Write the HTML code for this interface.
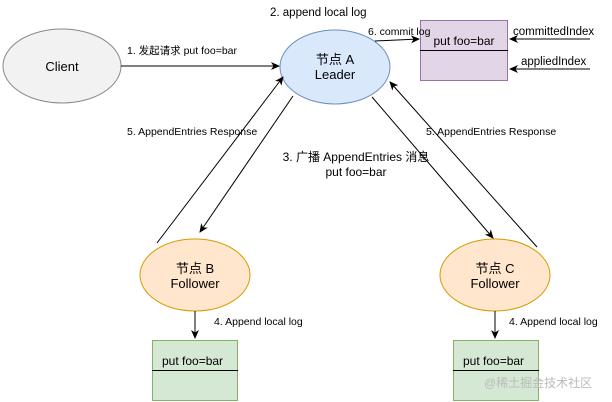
<!DOCTYPE html><html><head><meta charset="utf-8"><style>body{margin:0;background:#fff}svg{display:block}text{font-family:"Liberation Sans","Noto Sans CJK SC",sans-serif;fill:#000}</style></head><body>
<svg width="612" height="402" viewBox="0 0 612 402">
<defs><marker id="a" markerWidth="10" markerHeight="10" refX="8" refY="5" orient="auto" markerUnits="userSpaceOnUse"><path d="M0,1 L9,5 L0,9 L2.5,5 Z" fill="#000"/></marker></defs>
<ellipse cx="62" cy="66" rx="59" ry="37" fill="#f2f2f2" stroke="#888"/>
<text x="62" y="71" font-size="13" text-anchor="middle">Client</text>
<ellipse cx="335" cy="67" rx="55" ry="37" fill="#dae8fc" stroke="#6c8ebf"/>
<text x="335" y="64" font-size="13" text-anchor="middle">节点 A</text>
<text x="335" y="79" font-size="13" text-anchor="middle">Leader</text>
<rect x="420.5" y="20.5" width="87" height="60" fill="#e1d5e7" stroke="#9673a6"/>
<line x1="420" y1="50.5" x2="508" y2="50.5" stroke="#000"/>
<text x="464" y="45" font-size="12" text-anchor="middle">put foo=bar</text>
<ellipse cx="195" cy="275" rx="55" ry="36" fill="#ffe6cc" stroke="#d79b00"/>
<text x="195" y="273" font-size="13" text-anchor="middle">节点 B</text>
<text x="195" y="288" font-size="13" text-anchor="middle">Follower</text>
<ellipse cx="495" cy="275" rx="55" ry="36" fill="#ffe6cc" stroke="#d79b00"/>
<text x="495" y="273" font-size="13" text-anchor="middle">节点 C</text>
<text x="495" y="288" font-size="13" text-anchor="middle">Follower</text>
<rect x="152.5" y="340.5" width="85" height="60" fill="#d5e8d4" stroke="#82b366"/>
<line x1="152" y1="370.5" x2="238" y2="370.5" stroke="#000"/>
<text x="162" y="365" font-size="12">put foo=bar</text>
<rect x="453.5" y="340.5" width="85" height="60" fill="#d5e8d4" stroke="#82b366"/>
<line x1="453" y1="370.5" x2="539" y2="370.5" stroke="#000"/>
<text x="463" y="365" font-size="12">put foo=bar</text>
<g stroke="#000" fill="none" marker-end="url(#a)">
<line x1="121" y1="66" x2="279" y2="66"/>
<line x1="375" y1="41" x2="419" y2="39"/>
<line x1="590" y1="39" x2="510" y2="39"/>
<line x1="590" y1="69" x2="510" y2="69"/>
<line x1="293" y1="96" x2="200" y2="232"/>
<line x1="157" y1="243" x2="283" y2="77"/>
<line x1="372" y1="97" x2="493" y2="238"/>
<line x1="537" y1="247" x2="390" y2="82"/>
<line x1="195" y1="311" x2="195" y2="338"/>
<line x1="495" y1="311" x2="495" y2="338"/>
</g>
<text x="127" y="54" font-size="10.5">1. 发起请求 put foo=bar</text>
<text x="270" y="16" font-size="11.5">2. append local log</text>
<text x="368" y="35" font-size="10.5">6. commit log</text>
<text x="513" y="35" font-size="11.5">committedIndex</text>
<text x="521" y="65" font-size="11.5">appliedIndex</text>
<text x="127" y="135" font-size="10.5">5. AppendEntries Response</text>
<text x="426" y="135" font-size="10.5">5. AppendEntries Response</text>
<text x="356" y="161" font-size="12" text-anchor="middle">3. 广播 AppendEntries 消息</text>
<text x="356" y="176" font-size="12" text-anchor="middle">put foo=bar</text>
<text x="214" y="325" font-size="10.5">4. Append local log</text>
<text x="509" y="325" font-size="10.5">4. Append local log</text>
<text x="484" y="387" font-size="12" style="fill:#bbb">@稀土掘金技术社区</text>
</svg></body></html>
